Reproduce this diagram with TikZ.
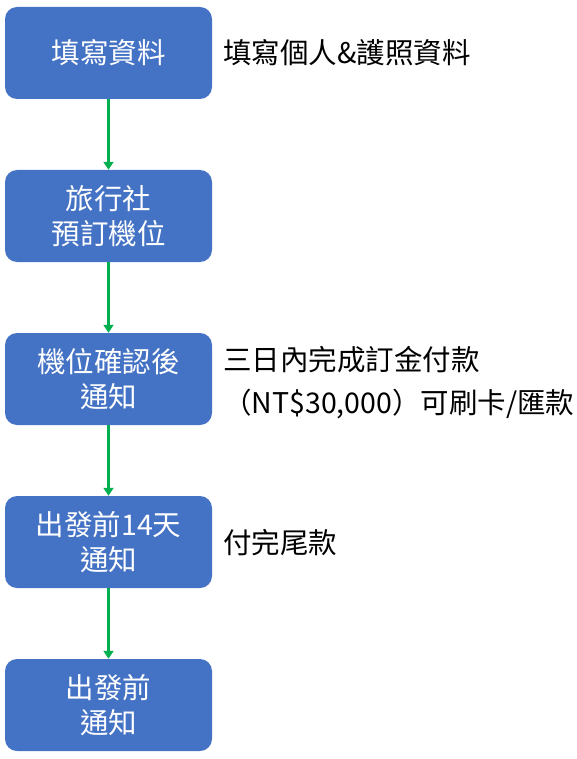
\documentclass[tikz,border=0pt]{standalone}
\usepackage{fontspec}
\setmainfont{Noto Sans CJK TC}
\usetikzlibrary{arrows.meta}
\definecolor{boxblue}{HTML}{4472C4}
\definecolor{arrgreen}{HTML}{00B050}
\begin{document}
\begin{tikzpicture}[x=1pt,y=-1pt,
  stepbox/.style={fill=boxblue, rounded corners=12pt, minimum width=207pt, minimum height=92pt, text=white, align=center, font=\fontsize{28.5}{35}\selectfont, inner sep=0pt},
  note/.style={anchor=west, align=left, font=\fontsize{28.5}{43}\selectfont, inner sep=0pt},
  flow/.style={draw=arrgreen, line width=2.6pt, -{Triangle[length=8pt,width=10pt]}}]
\useasboundingbox (0,0) rectangle (577,759);
\node[stepbox] (b1) at (108.5,53) {填寫資料};
\node[stepbox] (b2) at (108.5,216) {旅行社\\預訂機位};
\node[stepbox] (b3) at (108.5,379) {機位確認後\\通知};
\node[stepbox] (b4) at (108.5,542) {出發前14天\\通知};
\node[stepbox] (b5) at (108.5,705) {出發前\\通知};
\node[note] (n1) at (223,53) {填寫個人\&護照資料};
\node[note] (n3) at (223,382.5) {三日內完成訂金付款\\（NT\$30,000）可刷卡/匯款};
\node[note] (n4) at (223,543) {付完尾款};
\draw[flow] (b1) -- (b2);
\draw[flow] (b2) -- (b3);
\draw[flow] (b3) -- (b4);
\draw[flow] (b4) -- (b5);
\end{tikzpicture}
\end{document}
